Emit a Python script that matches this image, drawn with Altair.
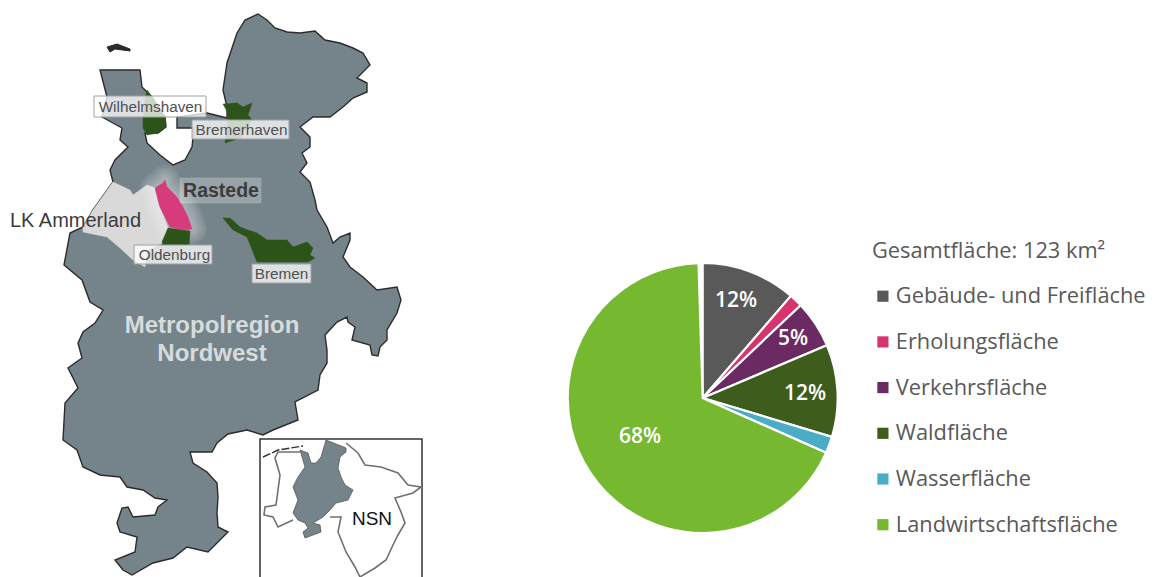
import altair as alt
import pandas as pd

# Pie chart values
categories = ["Gebäude- und Freifläche", "Erholungsfläche", "Verkehrsfläche", "Waldfläche", "Wasserfläche", "Landwirtschaftsfläche"]
shares = [11.4, 1.6, 5.7, 11.1, 2.0, 68.2]
colors = ["#595959", "#D6336F", "#6B2A62", "#3E5C1B", "#4BACC6", "#76B82F"]
pie_labels = ["12%", "5%", "12%", "68%"]
pie_label_lon = [736, 793, 805, 640]
pie_label_lat = [300.5, 339, 393.5, 437]

# Map outlines (traced in picture coordinates)
region = [(258,14),(267,20),(275,28),(287,32),(300,33),(315,31),(325,40),(340,43),(353,48),(363,53),(370,65),(357,78),(367,83),(367,92),(353,98),(343,107),(330,117),(313,117),(300,127),(310,137),(310,147),(302,153),(307,163),(300,172),(310,182),(315,200),(317,210),(327,227),(333,243),(340,237),(350,233),(350,240),(343,257),(350,267),(363,277),(377,290),(397,287),(401,300),(397,313),(387,330),(387,340),(380,347),(378,356),(372,355),(370,345),(352,340),(355,327),(348,322),(347,317),(337,322),(325,335),(327,350),(327,363),(320,375),(318,390),(295,402),(298,420),(273,430),(263,435),(247,430),(228,434),(217,443),(212,452),(190,452),(193,463),(207,472),(217,483),(218,497),(217,513),(218,527),(228,532),(217,543),(208,552),(187,547),(173,558),(153,563),(132,575),(123,570),(115,560),(135,552),(137,537),(120,532),(117,523),(122,508),(128,507),(133,517),(155,515),(158,507),(167,500),(155,498),(143,490),(127,487),(120,477),(100,475),(83,467),(77,450),(63,440),(65,403),(78,388),(68,368),(82,358),(78,343),(83,332),(95,323),(103,310),(90,302),(82,280),(64,265),(70,233),(83,227),(93,210),(113,182),(110,170),(115,160),(128,147),(120,140),(122,128),(102,117),(107,97),(100,70),(140,70),(142,87),(152,97),(165,117),(166,127),(158,133),(145,133),(147,143),(160,155),(173,165),(185,160),(192,147),(193,137),(193,128),(177,128),(177,117),(207,113),(227,118),(227,107),(223,90),(227,63),(237,33),(245,20)]
ammerland = [(113,182),(130,190),(133,195),(147,185),(155,188),(158,203),(165,220),(168,228),(163,243),(147,250),(145,267),(133,260),(120,248),(107,237),(83,232),(83,227),(93,210)]
rastede = [(165,180),(167,187),(177,197),(183,207),(188,217),(192,229),(183,230),(170,227),(165,217),(160,207),(155,188),(163,183)]
oldenburg = [(168,228),(190,231),(189,245),(163,245),(162,242)]
bremen = [(223,218),(230,218),(240,227),(248,230),(257,233),(267,240),(287,240),(293,247),(307,242),(313,248),(310,255),(315,258),(308,262),(257,262),(253,252),(247,237),(233,230)]
bremerhaven = [(223,104),(237,103),(243,107),(252,103),(248,115),(252,120),(240,138),(225,143),(228,120),(228,113)]
wilhelmshaven = [(147,90),(152,97),(165,117),(166,127),(158,133),(147,135),(143,128),(143,117),(145,100)]
island = [(107,47),(117,44),(130,49),(130,51),(115,49),(110,52)]

inset_frame = [(260,439),(422,439),(422,590),(260,590)]
inset_region = [(326,440),(346,448),(346,452),(340,457),(338,468),(341,477),(345,485),(353,490),(348,500),(336,503),(330,510),(323,517),(313,523),(320,525),(321,532),(305,538),(303,532),(308,528),(305,523),(298,520),(293,513),(298,500),(293,487),(298,477),(305,467),(300,450),(308,453),(311,463),(316,463),(321,457)]
inset_east = [(346,443),(358,453),(365,465),(381,467),(398,473),(408,485),(421,487),(413,493),(395,498),(401,512),(405,523),(398,535),(393,545),(386,560),(375,568),(360,577),(355,567),(346,552),(338,532),(341,517),(330,517)]
inset_west = [(300,452),(278,452),(275,458),(280,475),(276,505),(265,507),(264,515),(273,517),(278,527),(293,520)]
inset_coast = [(263,457),(278,450),(303,446)]

box_wil = [(94,96),(206,96),(206,117),(94,117)]
box_brh = [(192,120),(289,120),(289,139),(192,139)]
box_old = [(134,245),(212,245),(212,264),(134,264)]
box_bre = [(252,264),(311,264),(311,283),(252,283)]
box_ras = [(180,178),(261,178),(261,203),(180,203)]

map_labels = ["Wilhelmshaven", "Bremerhaven", "Oldenburg", "Bremen"]
map_label_lon = [150.5, 241.5, 174.5, 281.5]
map_label_lat = [106.5, 130, 255, 274]


def poly(points, closed=True):
    coords = [list(p) for p in points]
    if closed:
        coords = coords + [coords[0]]
        geom = {"type": "Polygon", "coordinates": [coords]}
    else:
        geom = {"type": "LineString", "coordinates": coords}
    return alt.Chart(alt.InlineData(
        values={"type": "FeatureCollection", "features": [{"type": "Feature", "properties": {}, "geometry": geom}]},
        format=alt.DataFormat(type="json", property="features"),
    )).project(**{"type": "identity", "scale": 1, "translate": [-8, -8]})


def text_layer(labels, lons, lats, **mark):
    df = pd.DataFrame({"t": labels, "lon": lons, "lat": lats})
    return alt.Chart(df).mark_text(**mark).encode(
        longitude="lon:Q", latitude="lat:Q", text="t:N"
    ).project(**{"type": "identity", "scale": 1, "translate": [-8, -8]})


GREY = "#75848B"
DARK = "#2C5419"
LINE = "#2b2b2b"
ARIAL = "Liberation Sans"

layers = [
    poly(region).mark_geoshape(fill=GREY, stroke=LINE, strokeWidth=1.4),
    poly(island).mark_geoshape(fill=LINE, stroke=LINE, strokeWidth=1),
    poly(ammerland).mark_geoshape(fill="#D9D9D9", stroke="#D9D9D9", strokeWidth=0.5),
]
for w in [30, 25, 20, 15, 10, 5]:
    layers.append(poly(rastede).mark_geoshape(fill="#FFFFFF", stroke="#FFFFFF", strokeWidth=w, opacity=0.07, strokeJoin="round"))
layers += [
    poly(oldenburg).mark_geoshape(fill=DARK, stroke=DARK, strokeWidth=0.5),
    poly(rastede).mark_geoshape(fill="#D63C7C", stroke="#D63C7C", strokeWidth=0.5),
    poly(bremen).mark_geoshape(fill=DARK, stroke=DARK, strokeWidth=0.5),
    poly(bremerhaven).mark_geoshape(fill=DARK, stroke=DARK, strokeWidth=0.5),
    poly(wilhelmshaven).mark_geoshape(fill=DARK, stroke=DARK, strokeWidth=0.5),
]
for b in [box_wil, box_brh, box_old, box_bre]:
    layers.append(poly(b).mark_geoshape(fill="#FFFFFF", fillOpacity=0.76, stroke="#A0A0A0", strokeWidth=1))
layers.append(poly(box_ras).mark_geoshape(fill="#FFFFFF", fillOpacity=0.25, stroke="#FFFFFF", strokeOpacity=0.15, strokeWidth=1))

layers += [
    poly(inset_frame).mark_geoshape(fill="#FFFFFF", stroke="#333333", strokeWidth=1.5),
    poly(inset_east, closed=False).mark_geoshape(filled=False, stroke="#707070", strokeWidth=1.6),
    poly(inset_west, closed=False).mark_geoshape(filled=False, stroke="#707070", strokeWidth=1.6),
    poly(inset_coast, closed=False).mark_geoshape(filled=False, stroke="#333333", strokeWidth=1.4, strokeDash=[8, 2]),
    poly(inset_region).mark_geoshape(fill=GREY, stroke="#555555", strokeWidth=0.8),
    text_layer(map_labels, map_label_lon, map_label_lat, font=ARIAL, fontSize=15.3, color="#505050"),
    text_layer(["Rastede"], [221], [191], font=ARIAL, fontSize=19.5, fontWeight="bold", color="#3C3C3C"),
    text_layer(["LK Ammerland"], [75.5], [221], font=ARIAL, fontSize=20, color="#3C3C3C"),
    text_layer(["Metropolregion", "Nordwest"], [212, 212], [325.5, 353.5], font=ARIAL, fontSize=24, fontWeight="bold", color="#D6DCDC"),
    text_layer(["NSN"], [372], [519], font=ARIAL, fontSize=19, color="#111111"),
]

pie_df = pd.DataFrame({"Fläche": categories, "Anteil": shares, "i": range(len(categories))})
pie = alt.Chart(pie_df).mark_arc(radius=135, stroke="#FFFFFF", strokeWidth=2.2).encode(
    theta=alt.Theta("Anteil:Q", stack=True, scale=alt.Scale(domain=[0, 100.5])),
    order=alt.Order("i:Q"),
    x=alt.value(694.7),
    y=alt.value(390),
    color=alt.Color(
        "Fläche:N",
        sort=categories,
        scale=alt.Scale(domain=categories, range=colors),
        legend=alt.Legend(
            title="Gesamtfläche: 123 km²",
            orient="none",
            legendX=864,
            legendY=233,
            symbolType="square",
            symbolSize=125,
            symbolStrokeWidth=0,
            symbolOffset=0,
            titleFont="Open Sans",
            titleFontSize=21.8,
            titleFontWeight="normal",
            titleColor="#595959",
            titlePadding=22.5,
            titleLimit=400,
            labelFont="Open Sans",
            labelFontSize=21.8,
            labelColor="#595959",
            labelLimit=400,
            labelOffset=2,
            rowPadding=22.7,
            padding=0,
        ),
    ),
)
layers.append(pie)
layers.append(text_layer(pie_labels, pie_label_lon, pie_label_lat, font="Open Sans", fontSize=21, fontWeight=600, color="#FFFFFF"))

chart = alt.layer(*layers).resolve_scale(color="independent").properties(
    width=1141, height=569, padding=0, autosize=alt.AutoSizeParams(type="none"), background="#FFFFFF"
).configure_view(stroke=None)

chart.save("out.html", embed_options={"renderer": "svg", "actions": False})
